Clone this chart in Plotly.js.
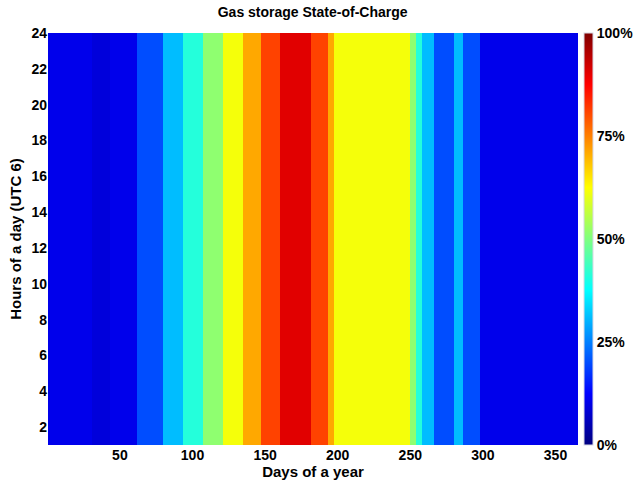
<!DOCTYPE html>
<html>
<head>
<meta charset="utf-8">
<script src="https://cdn.plot.ly/plotly-3.0.1.min.js"></script>
<style>html,body{margin:0;padding:0;background:#fff}#chart{width:638px;height:484px}</style>
</head>
<body>
<div id="chart"></div>
<script>
// Day-of-year edges of the constant-colour bands
const bandEdges = [0.5, 30.8, 43.2, 61.8, 79.7, 93.5, 107.2, 121, 134.8, 147.2, 160.3,
                   181.6, 193.3, 197.5, 249.8, 253.9, 258.1, 266.3, 280.1, 286.3, 298, 365.5];
// State-of-charge (fraction) in each band
const socValues = [0.105, 0.09, 0.105, 0.2, 0.31, 0.41, 0.515, 0.615, 0.71, 0.81, 0.905,
                   0.81, 0.71, 0.615, 0.515, 0.41, 0.31, 0.2, 0.31, 0.2, 0.105];
// Hours of a day
const hours = [1,2,3,4,5,6,7,8,9,10,11,12,13,14,15,16,17,18,19,20,21,22,23,24];
const xTicks = [50, 100, 150, 200, 250, 300, 350];
const yTicks = [2, 4, 6, 8, 10, 12, 14, 16, 18, 20, 22, 24];
const cbTickVals = [0, 0.25, 0.5, 0.75, 1];
const cbTickText = ['0%', '25%', '50%', '75%', '100%'];

const z = hours.map(() => socValues.slice());

const jet = [[0, '#000080'], [0.125, '#0000ff'], [0.375, '#00ffff'],
             [0.625, '#ffff00'], [0.875, '#ff0000'], [1, '#800000']];

const fontFam = 'Arial, "Liberation Sans", Helvetica, sans-serif';

const trace = {
  type: 'heatmap',
  x: bandEdges,
  y: hours,
  z: z,
  zmin: 0, zmax: 1,
  colorscale: jet,
  showscale: true,
  hoverinfo: 'skip',
  colorbar: {
    thickness: 9,
    len: 1, lenmode: 'fraction',
    x: 1.0113, xanchor: 'left', xpad: 0,
    y: 0.5, yanchor: 'middle', ypad: 0,
    outlinewidth: 1, outlinecolor: '#d8d8e4',
    tickvals: cbTickVals, ticktext: cbTickText,
    ticks: '', ticklabelposition: 'outside',
    tickfont: {family: fontFam, size: 14, color: '#000', weight: 'bold'}
  }
};

const layout = {
  width: 638, height: 484,
  margin: {l: 48, r: 60, t: 33, b: 39, autoexpand: false},
  paper_bgcolor: '#fff', plot_bgcolor: '#fff',
  title: {text: 'Gas storage State-of-Charge', x: 0.49, xanchor: 'center', y: 0.975, yanchor: 'middle',
          font: {family: fontFam, size: 14, color: '#000', weight: 'bold'}},
  xaxis: {
    range: [0.5, 365.5], tickvals: xTicks, ticks: '', showgrid: false, zeroline: false,
    tickfont: {family: fontFam, size: 14, color: '#000', weight: 'bold'},
    title: {text: 'Days of a year', standoff: 2, font: {family: fontFam, size: 15, color: '#000', weight: 'bold'}},
    showline: false
  },
  yaxis: {
    range: [1, 24], tickvals: yTicks, ticks: '', showgrid: false, zeroline: false,
    tickfont: {family: fontFam, size: 14, color: '#000', weight: 'bold'},
    title: {text: 'Hours of a day (UTC 6)', standoff: 6, font: {family: fontFam, size: 15, color: '#000', weight: 'bold'}},
    showline: false
  }
};

Plotly.newPlot('chart', [trace], layout, {displayModeBar: false, staticPlot: true});
</script>
</body>
</html>
